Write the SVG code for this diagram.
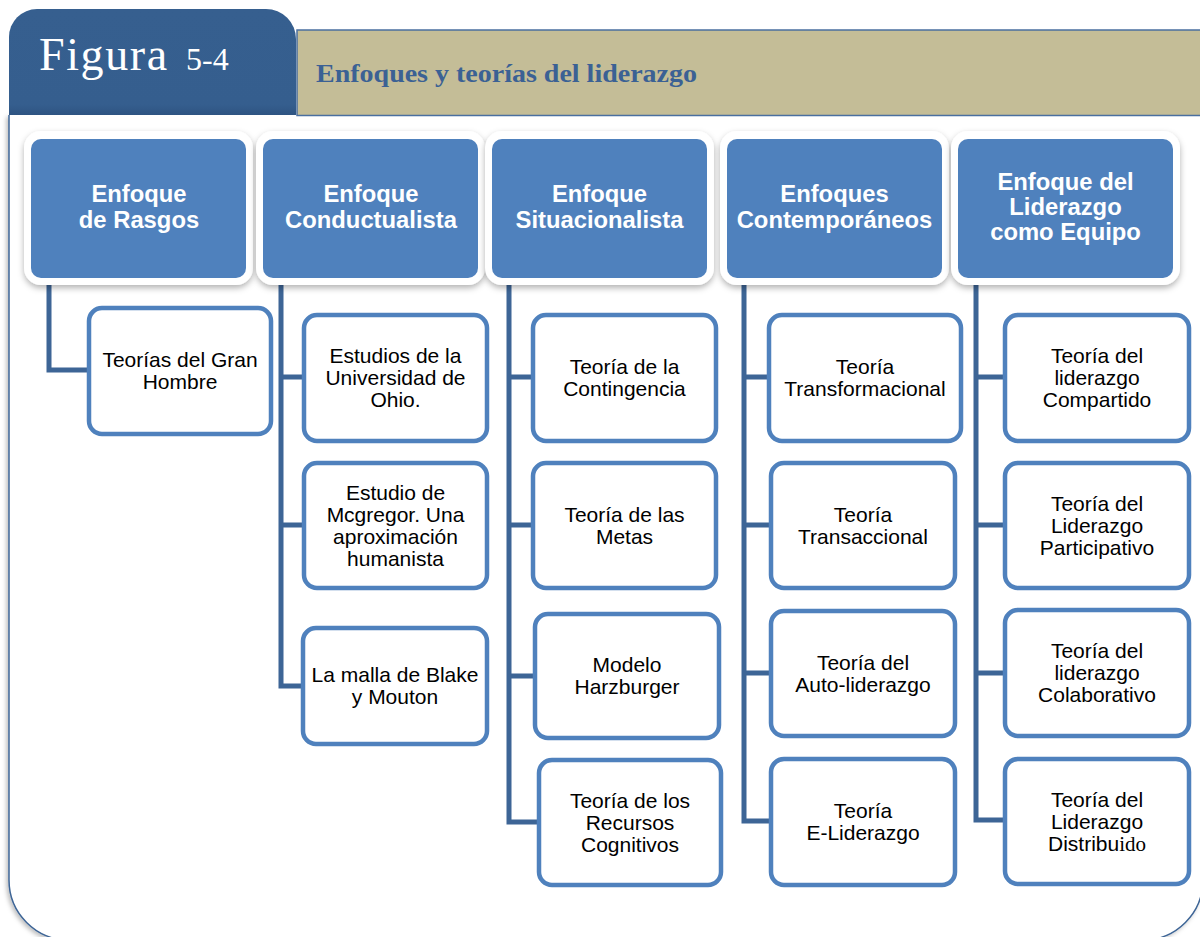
<svg xmlns="http://www.w3.org/2000/svg" width="1200" height="937" viewBox="0 0 1200 937">
<defs>
<filter id="sh" x="-10%" y="-10%" width="120%" height="130%">
<feDropShadow dx="0" dy="3" stdDeviation="3" flood-color="#000" flood-opacity="0.3"/>
</filter>
<filter id="fsh" x="-5%" y="-5%" width="110%" height="110%">
<feDropShadow dx="-2" dy="2" stdDeviation="2" flood-color="#000" flood-opacity="0.25"/>
</filter>
<linearGradient id="tabg" x1="0" y1="0" x2="0" y2="1">
<stop offset="0" stop-color="#365F8F"/>
<stop offset="0.9" stop-color="#355E8E"/>
<stop offset="1" stop-color="#2E5482"/>
</linearGradient>
</defs>
<style>
.hw{fill:#fff}
.hb{fill:#4F81BD}
.ht{font-family:"Liberation Sans",Arial,sans-serif;font-weight:bold;font-size:23.8px;fill:#fff;text-anchor:middle}
.cb{fill:#fff;stroke:#4F81BD;stroke-width:4.5}
.ct{font-family:"Liberation Sans",Arial,sans-serif;font-size:21px;fill:#000;text-anchor:middle}
.cn{fill:none;stroke:#3D6596;stroke-width:5;stroke-linejoin:miter}
</style>
<rect width="1200" height="937" fill="#fff"/>
<!-- frame -->
<path d="M9,115 V880 A60,60 0 0 0 69,940 H1143 A60,60 0 0 0 1203,880 V115" fill="#fff" stroke="#3E6596" stroke-width="1.5" filter="url(#fsh)"/>
<!-- header -->
<g id="header">
<rect x="297" y="30" width="910" height="85.5" fill="#C4BD97" stroke="#4A6FA0" stroke-width="1.5"/>
<path d="M9,115 V37 A28,28 0 0 1 37,9 H266 A30,30 0 0 1 296,39 V115 Z" fill="url(#tabg)"/>
<text x="39" y="70" font-family="'Liberation Serif','Times New Roman',serif" font-size="46" letter-spacing="1.6" fill="#fff">Figura</text>
<text x="186" y="70" font-family="'Liberation Serif','Times New Roman',serif" font-size="32" fill="#fff">5-4</text>
<text x="316" y="82" font-family="'Liberation Serif','Times New Roman',serif" font-weight="bold" font-size="25" fill="#3B6194" textLength="381" lengthAdjust="spacingAndGlyphs">Enfoques y teorías del liderazgo</text>
</g>
<!-- connectors -->
<g id="connectors">
<path class="cn" d="M49,278 V370 H89"/>
<path class="cn" d="M281,278 V686 H303 M281,377 H304 M281,525 H304"/>
<path class="cn" d="M509,278 V822 H539 M509,377 H533 M509,525 H533 M509,676 H535"/>
<path class="cn" d="M744,278 V821 H771 M744,377 H769 M744,525 H771 M744,673 H771"/>
<path class="cn" d="M976,278 V820 H1005 M976,377 H1005 M976,525 H1005 M976,673 H1005"/>
</g>
<!-- header nodes -->
<g id="h1">
<rect class="hw" x="24" y="131" width="229" height="154" rx="17" filter="url(#sh)"/>
<rect class="hb" x="31" y="139" width="215" height="139" rx="10"/>
<text class="ht"><tspan x="139" y="202">Enfoque</tspan><tspan x="139" y="228">de Rasgos</tspan></text>
</g>
<g id="h2">
<rect class="hw" x="256" y="131" width="229" height="154" rx="17" filter="url(#sh)"/>
<rect class="hb" x="263" y="139" width="215" height="139" rx="10"/>
<text class="ht"><tspan x="371" y="202">Enfoque</tspan><tspan x="371" y="228">Conductualista</tspan></text>
</g>
<g id="h3">
<rect class="hw" x="485" y="131" width="229" height="154" rx="17" filter="url(#sh)"/>
<rect class="hb" x="492" y="139" width="215" height="139" rx="10"/>
<text class="ht"><tspan x="599.5" y="202">Enfoque</tspan><tspan x="599.5" y="228">Situacionalista</tspan></text>
</g>
<g id="h4">
<rect class="hw" x="720" y="131" width="229" height="154" rx="17" filter="url(#sh)"/>
<rect class="hb" x="727" y="139" width="215" height="139" rx="10"/>
<text class="ht"><tspan x="834.5" y="202">Enfoques</tspan><tspan x="834.5" y="228">Contemporáneos</tspan></text>
</g>
<g id="h5">
<rect class="hw" x="951" y="131" width="229" height="154" rx="17" filter="url(#sh)"/>
<rect class="hb" x="958" y="139" width="215" height="139" rx="10"/>
<text class="ht"><tspan x="1065.5" y="190">Enfoque del</tspan><tspan x="1065.5" y="215">Liderazgo</tspan><tspan x="1065.5" y="240">como Equipo</tspan></text>
</g>
<!-- column 1 -->
<g id="c1b1">
<rect class="cb" x="89" y="308" width="182" height="126" rx="13"/>
<text class="ct"><tspan x="180" y="367">Teorías del Gran</tspan><tspan x="180" y="389">Hombre</tspan></text>
</g>
<!-- column 2 -->
<g id="c2b1">
<rect class="cb" x="304" y="315" width="183" height="126" rx="13"/>
<text class="ct"><tspan x="395.5" y="363">Estudios de la</tspan><tspan x="395.5" y="385">Universidad de</tspan><tspan x="395.5" y="407">Ohio.</tspan></text>
</g>
<g id="c2b2">
<rect class="cb" x="304" y="463" width="183" height="125" rx="13"/>
<text class="ct"><tspan x="395.5" y="499.5">Estudio de</tspan><tspan x="395.5" y="521.5">Mcgregor. Una</tspan><tspan x="395.5" y="543.5">aproximación</tspan><tspan x="395.5" y="565.5">humanista</tspan></text>
</g>
<g id="c2b3">
<rect class="cb" x="303" y="628" width="184" height="116" rx="13"/>
<text class="ct"><tspan x="395" y="682">La malla de Blake</tspan><tspan x="395" y="704">y Mouton</tspan></text>
</g>
<!-- column 3 -->
<g id="c3b1">
<rect class="cb" x="533" y="315" width="183" height="126" rx="13"/>
<text class="ct"><tspan x="624.5" y="374">Teoría de la</tspan><tspan x="624.5" y="396">Contingencia</tspan></text>
</g>
<g id="c3b2">
<rect class="cb" x="533" y="463" width="183" height="125" rx="13"/>
<text class="ct"><tspan x="624.5" y="521.5">Teoría de las</tspan><tspan x="624.5" y="543.5">Metas</tspan></text>
</g>
<g id="c3b3">
<rect class="cb" x="535" y="614" width="184" height="124" rx="13"/>
<text class="ct"><tspan x="627" y="672">Modelo</tspan><tspan x="627" y="694">Harzburger</tspan></text>
</g>
<g id="c3b4">
<rect class="cb" x="539" y="760" width="182" height="125" rx="13"/>
<text class="ct"><tspan x="630" y="807.5">Teoría de los</tspan><tspan x="630" y="829.5">Recursos</tspan><tspan x="630" y="851.5">Cognitivos</tspan></text>
</g>
<!-- column 4 -->
<g id="c4b1">
<rect class="cb" x="769" y="315" width="192" height="126" rx="13"/>
<text class="ct"><tspan x="865" y="374">Teoría</tspan><tspan x="865" y="396">Transformacional</tspan></text>
</g>
<g id="c4b2">
<rect class="cb" x="771" y="463" width="184" height="125" rx="13"/>
<text class="ct"><tspan x="863" y="521.5">Teoría</tspan><tspan x="863" y="543.5">Transaccional</tspan></text>
</g>
<g id="c4b3">
<rect class="cb" x="771" y="611" width="184" height="125" rx="13"/>
<text class="ct"><tspan x="863" y="669.5">Teoría del</tspan><tspan x="863" y="691.5">Auto-liderazgo</tspan></text>
</g>
<g id="c4b4">
<rect class="cb" x="771" y="759" width="184" height="126" rx="13"/>
<text class="ct"><tspan x="863" y="818">Teoría</tspan><tspan x="863" y="840">E-Liderazgo</tspan></text>
</g>
<!-- column 5 -->
<g id="c5b1">
<rect class="cb" x="1005" y="315" width="184" height="126" rx="13"/>
<text class="ct"><tspan x="1097" y="363">Teoría del</tspan><tspan x="1097" y="385">liderazgo</tspan><tspan x="1097" y="407">Compartido</tspan></text>
</g>
<g id="c5b2">
<rect class="cb" x="1005" y="463" width="184" height="125" rx="13"/>
<text class="ct"><tspan x="1097" y="510.5">Teoría del</tspan><tspan x="1097" y="532.5">Liderazgo</tspan><tspan x="1097" y="554.5">Participativo</tspan></text>
</g>
<g id="c5b3">
<rect class="cb" x="1005" y="610" width="184" height="126" rx="13"/>
<text class="ct"><tspan x="1097" y="658">Teoría del</tspan><tspan x="1097" y="680">liderazgo</tspan><tspan x="1097" y="702">Colaborativo</tspan></text>
</g>
<g id="c5b4">
<rect class="cb" x="1005" y="759" width="184" height="125" rx="13"/>
<text class="ct"><tspan x="1097" y="806.5">Teoría del</tspan><tspan x="1097" y="828.5">Liderazgo</tspan><tspan x="1097" y="850.5">Distribu<tspan font-family="'Liberation Serif','Times New Roman',serif">ido</tspan></tspan></text>
</g>
</svg>
